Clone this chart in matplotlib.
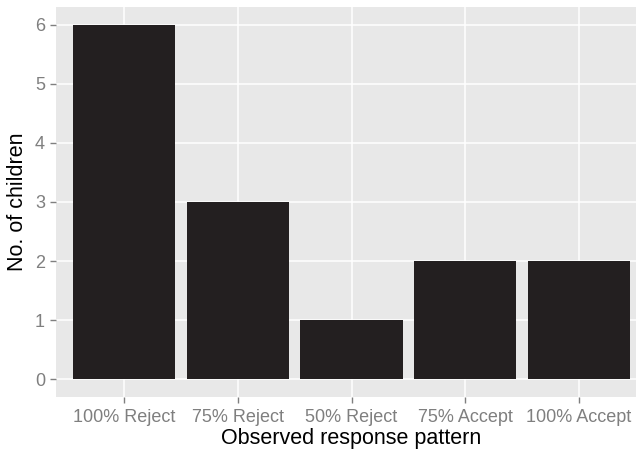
import matplotlib.pyplot as plt

patterns = ['100% Reject', '75% Reject', '50% Reject', '75% Accept', '100% Accept']
children = [6, 3, 1, 2, 2]
y_ticks = [0, 1, 2, 3, 4, 5, 6]

plt.rcParams['font.family'] = ['Liberation Sans', 'DejaVu Sans']

fig = plt.figure(figsize=(6.36, 4.51), dpi=100)
# panel runs a bit past the right edge, like the original crop
ax = fig.add_axes([56 / 636, 1 - 397 / 451, 591 / 636, 390 / 451])
ax.set_facecolor('#E8E8E8')

pos = list(range(1, len(patterns) + 1))
ax.bar(pos, children, width=0.9, color='#231F20', zorder=3)

ax.set_xlim(0.4, 5.6)
ax.set_ylim(-0.3, 6.3)
ax.set_xticks(pos)
ax.set_xticklabels(patterns)
ax.set_yticks(y_ticks)

ax.grid(True, color='white', linewidth=1.1, zorder=1)
ax.set_axisbelow(True)
for s in ax.spines.values():
    s.set_visible(False)

ax.tick_params(axis='both', colors='#7F7F7F', labelsize=13, length=4, width=1)
ax.tick_params(axis='x', pad=5)
ax.tick_params(axis='y', pad=4)

ax.set_xlabel('Observed response pattern', fontsize=15.5, color='black', labelpad=1)
ax.set_ylabel('No. of children', fontsize=15.5, color='black', labelpad=5)

fig.savefig('out.png', dpi=100)
